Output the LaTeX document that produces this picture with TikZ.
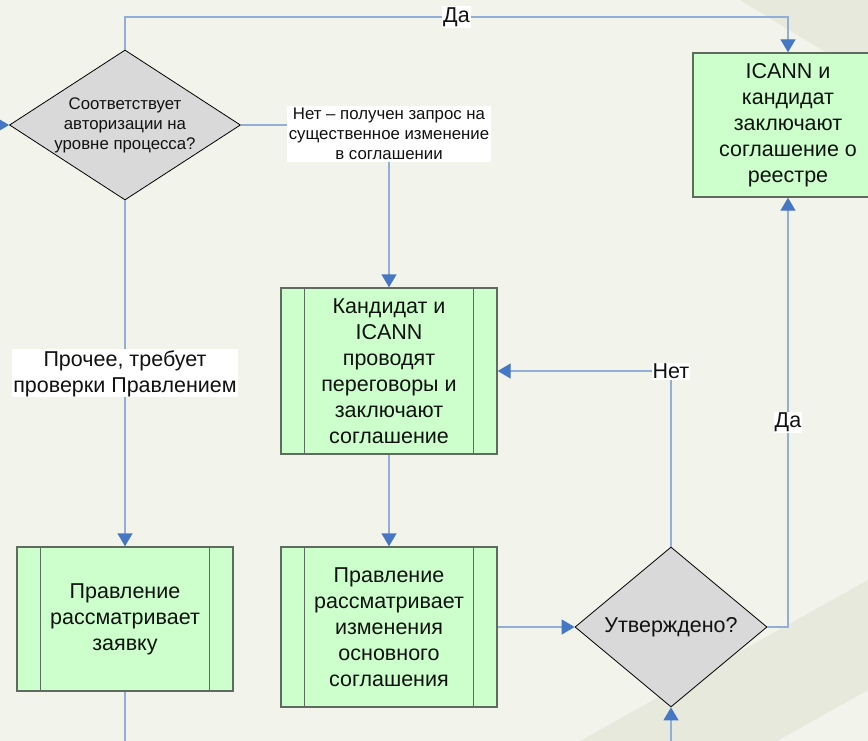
\documentclass[tikz,border=0pt]{standalone}
\usepackage{fontspec}
\setmainfont{Liberation Sans}
\usetikzlibrary{shapes.geometric,arrows.meta,calc}
\definecolor{bg}{HTML}{F2F3EB}
\definecolor{band}{HTML}{E8E9DD}
\definecolor{linec}{HTML}{92ADD6}
\definecolor{arrc}{HTML}{4677C4}
\definecolor{boxfill}{HTML}{CCFFCC}
\definecolor{boxline}{HTML}{5E6B5E}
\definecolor{dfill}{HTML}{D9D9D9}
\definecolor{txt}{HTML}{111111}
\tikzset{
  proc/.style={draw=boxline, line width=1.4pt, fill=boxfill, rectangle, align=center, text=txt, inner sep=0pt, font=\fontsize{21.5}{26}\selectfont},
  dec/.style={draw=black, line width=0.8pt, fill=dfill, diamond, inner sep=0pt, align=center, text=txt},
  conn/.style={draw=linec, line width=1.4pt, -{Triangle[width=15pt,length=13pt,color=arrc,fill=arrc]}},
  plain/.style={draw=linec, line width=1.4pt},
  lab/.style={fill=white, inner sep=1pt, text=txt, align=center, font=\fontsize{21.5}{26}\selectfont},
  slab/.style={fill=white, inner sep=2pt, text=txt, align=center, font=\fontsize{16.8}{20}\selectfont},
}
\begin{document}
\begin{tikzpicture}[x=1pt,y=-1pt]
\useasboundingbox (0,0) rectangle (868,741);
\clip (0,0) rectangle (868,741);
\fill[bg] (0,0) rectangle (868,741);
\fill[band] (740,0) -- (868,0) -- (868,78) -- cycle;
\fill[band] (580,741) -- (868,580) -- (868,690) -- (777,741) -- cycle;

% nodes
\node[dec, aspect=1.54, minimum width=231pt, minimum height=150pt, font=\fontsize{16.8}{20}\selectfont] (d1) at (125,125) {Соответствует\\авторизации на\\уровне процесса?};
\node[proc, minimum width=190pt, minimum height=144pt] (ic) at (788,125) {ICANN и\\кандидат\\заключают\\соглашение о\\реестре};
\node[proc, minimum width=216pt, minimum height=166pt] (kand) at (389,371) {Кандидат и\\ICANN\\проводят\\переговоры и\\заключают\\соглашение};
\node[proc, minimum width=216pt, minimum height=160pt] (pr2) at (389,627) {Правление\\рассматривает\\изменения\\основного\\соглашения};
\node[proc, minimum width=216pt, minimum height=144pt] (pr1) at (125,619) {Правление\\рассматривает\\заявку};
\node[dec, aspect=1.2, minimum width=192pt, minimum height=160pt, font=\fontsize{21.5}{26}\selectfont] (ut) at (671,627) {Утверждено?};

% inner lines of process boxes
\foreach \n in {kand,pr2,pr1}{
  \draw[boxline, line width=1.4pt] ($(\n.north west)+(24,0)$) -- ($(\n.south west)+(24,0)$);
  \draw[boxline, line width=1.4pt] ($(\n.north east)+(-24,0)$) -- ($(\n.south east)+(-24,0)$);
}

% free ends
\coordinate (inL) at (-10,125);
\coordinate (pr1out) at (125,760);
\coordinate (utin) at (671,760);

% connectors
\draw[conn] (inL) -- (d1.west);
\draw[conn] (d1.north) -- (d1.north |- 0,17) -- node[lab]{Да} (ic.north |- 0,17) -- (ic.north);
\draw[conn] (d1.east) -| node[slab, pos=0.5, yshift=-9pt]{Нет – получен запрос на\\существенное изменение\\в соглашении} (kand.north);
\draw[conn] (d1.south) -- node[lab]{Прочее, требует\\проверки Правлением} (pr1.north);
\draw[plain] (pr1.south) -- (pr1out);
\draw[conn] (kand.south) -- (pr2.north);
\draw[conn] (pr2.east) -- (ut.west);
\draw[conn] (ut.east) -| node[lab, pos=0.738]{Да} (ic.south);
\draw[conn] (ut.north) |- node[lab, pos=0.5]{Нет} (kand.east);
\draw[conn] (utin) -- (ut.south);
\end{tikzpicture}
\end{document}
